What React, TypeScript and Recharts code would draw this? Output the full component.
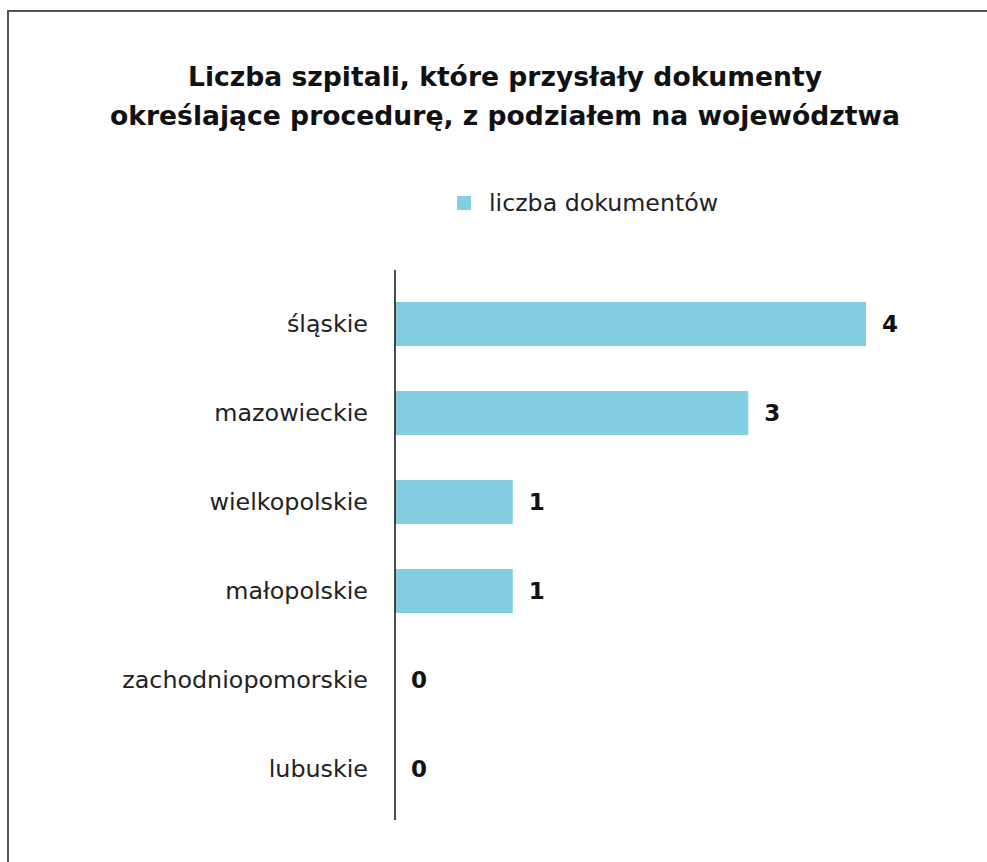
import React from 'react';
import { BarChart, Bar, XAxis, YAxis, LabelList } from 'recharts';

const regions = ['śląskie', 'mazowieckie', 'wielkopolskie', 'małopolskie', 'zachodniopomorskie', 'lubuskie'];
const documents = [4, 3, 1, 1, 0, 0];

const data = regions.map((region, i) => ({ region, docs: documents[i] }));

const FONT = '"DejaVu Sans", sans-serif';
const BAR_COLOR = '#83cee0';

const App: React.FC = () => {
    return (
        <div style={{ position: 'absolute', top: 0, left: 0, width: 987, height: 862, background: '#fff', overflow: 'hidden' }}>
            <div
                style={{
                    position: 'absolute',
                    top: 10,
                    left: 7,
                    width: 990,
                    height: 870,
                    borderTop: '2px solid #555',
                    borderLeft: '2px solid #555',
                }}
            />
            <div
                style={{
                    position: 'absolute',
                    top: 57,
                    left: 0,
                    width: 1010,
                    textAlign: 'center',
                    fontFamily: FONT,
                    fontWeight: 700,
                    fontSize: 26.6,
                    lineHeight: '39px',
                    color: '#111',
                }}
            >
                Liczba szpitali, które przysłały dokumenty
                <br />
                określające procedurę, z podziałem na województwa
            </div>
            <div
                style={{
                    position: 'absolute',
                    top: 188,
                    left: 457,
                    display: 'flex',
                    alignItems: 'center',
                    fontFamily: FONT,
                    height: 30,
                }}
            >
                <span style={{ width: 14, height: 14, background: BAR_COLOR, display: 'inline-block', marginRight: 18 }} />
                <span style={{ fontSize: 23.7, color: '#222' }}>liczba dokumentów</span>
            </div>
            <BarChart
                width={987}
                height={862}
                data={data}
                layout="vertical"
                margin={{ top: 270, right: 121, bottom: 42, left: 0 }}
                barSize={44}
                style={{ position: 'absolute', top: 0, left: 0 }}
            >
                <XAxis type="number" domain={[0, 4]} hide />
                <YAxis
                    type="category"
                    dataKey="region"
                    width={395}
                    padding={{ top: 9, bottom: 7 }}
                    axisLine={{ stroke: '#111', strokeWidth: 1.5 }}
                    tickLine={false}
                    tickMargin={21}
                    tick={{ fill: '#222', fontSize: 23.8, fontFamily: FONT }}
                />
                <Bar dataKey="docs" name="liczba dokumentów" fill={BAR_COLOR} minPointSize={0.01} isAnimationActive={false}>
                    <LabelList
                        dataKey="docs"
                        position="right"
                        offset={16}
                        style={{ fill: '#111', fontSize: 23, fontWeight: 700, fontFamily: FONT }}
                    />
                </Bar>
            </BarChart>
        </div>
    );
};

export default App;
